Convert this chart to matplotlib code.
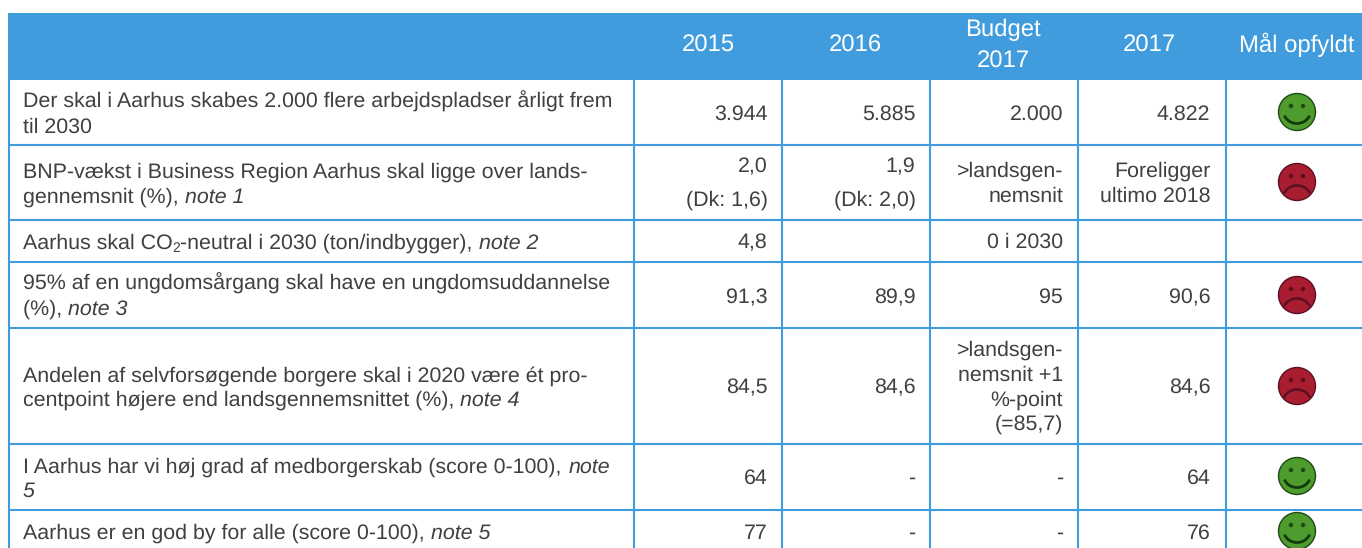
import matplotlib
matplotlib.use("Agg")
import matplotlib.pyplot as plt
from matplotlib.patches import Rectangle, Circle, Arc

plt.rcParams['font.family'] = ['Liberation Sans', 'DejaVu Sans']
plt.rcParams['text.hinting'] = 'none'
plt.rcParams['text.hinting_factor'] = 8

# table content
headers = ["2015", "2016", "Budget\n2017", "2017", "Mål opfyldt"]

# label runs: (text, style), style is n = normal, i = italic, s = subscript
labels = [
    [[("Der skal i Aarhus skabes 2.000 flere arbejdspladser årligt frem", "n")],
     [("til 2030", "n")]],
    [[("BNP-vækst i Business Region Aarhus skal ligge over lands-", "n")],
     [("gennemsnit (%), ", "n"), ("note 1", "i")]],
    [[("Aarhus skal CO", "n"), ("2", "s"), ("-neutral i 2030 (ton/indbygger), ", "n"), ("note 2", "i")]],
    [[("95% af en ungdomsårgang skal have en ungdomsuddannelse", "n")],
     [("(%), ", "n"), ("note 3", "i")]],
    [[("Andelen af selvforsøgende borgere skal i 2020 være ét pro-", "n")],
     [("centpoint højere end landsgennemsnittet (%), ", "n"), ("note 4", "i")]],
    [[("I Aarhus har vi høj grad af medborgerskab (score 0-100), ", "n"), ("note", "i")],
     [("5", "i")]],
    [[("Aarhus er en god by for alle (score 0-100), ", "n"), ("note 5", "i")]],
]

col_2015 = ["3.944", "2,0\n(Dk: 1,6)", "4,8", "91,3", "84,5", "64", "77"]
col_2016 = ["5.885", "1,9\n(Dk: 2,0)", "", "89,9", "84,6", "-", "-"]
col_budget = ["2.000", ">landsgen-\nnemsnit", "0 i 2030", "95",
              ">landsgen-\nnemsnit +1\n%-point\n(=85,7)", "-", "-"]
col_2017 = ["4.822", "Foreligger\nultimo 2018", "", "90,6", "84,6", "64", "76"]
goal_met = [True, False, None, False, False, True, True]

# layout in pixels
W, H = 1362, 548
left, right = 8.5, 1362
head_top, head_bot = 13, 80
row_lines = [80, 145, 220, 262, 328, 444, 510, 548]
col_lines = [8.5, 634, 781.5, 930, 1078, 1226]
right_edges = [767.5, 915.5, 1063, 1210.5]
head_x = [708, 855, 1003, 1149, 1297]
face_x = 1297
face_y = [112, 182, None, 295, 386, 476, 531]
label_y = [[108, 133], [178, 203], [249], [290, 315], [382, 406], [473, 497], [539]]
value_y = [120, 189, 248, 303, 393, 484, 539]
line_h = 24.6

BLUE = "#409CDC"
TEXT = "#404040"
FS = 15.43
HEAD_FS = 17.2

fig = plt.figure(figsize=(W / 100, H / 100), dpi=100)
ax = fig.add_axes([0, 0, 1, 1])
ax.set_xlim(0, W)
ax.set_ylim(H, 0)
ax.axis("off")
renderer = fig.canvas.get_renderer()

# header band
ax.add_patch(Rectangle((left - 1, head_top), right - left + 1, head_bot - head_top, color=BLUE, lw=0))
for x, head in zip(head_x, headers):
    parts = head.split("\n")
    if len(parts) == 2:
        ax.text(x, 36, parts[0], color="white", fontsize=HEAD_FS, ha="center", va="baseline")
        ax.text(x, 68, parts[1], color="white", fontsize=HEAD_FS, ha="center", va="baseline")
    else:
        ax.text(x, 52, head, color="white", fontsize=HEAD_FS, ha="center", va="baseline")

# grid lines
for y in row_lines[1:-1]:
    ax.plot([left, right], [y, y], color=BLUE, lw=1.5, solid_capstyle="butt")
for x in col_lines:
    ax.plot([x, x], [row_lines[0], H], color=BLUE, lw=1.5, solid_capstyle="butt")


def draw_runs(x, y, runs):
    for txt, style in runs:
        if style == "s":
            t = ax.text(x, y + 3, txt, color=TEXT, fontsize=FS * 0.65, va="baseline")
        else:
            t = ax.text(x, y, txt, color=TEXT, fontsize=FS, va="baseline",
                        style="italic" if style == "i" else "normal")
        # trailing spaces count for the next run
        probe = ax.text(0, 0, txt.replace(" ", "\u00a0"), fontsize=t.get_fontsize(), style=t.get_style())
        x += probe.get_window_extent(renderer).width
        probe.remove()


def draw_face(x, y, happy):
    fill = "#4F9C2E" if happy else "#A81D30"
    edge = "#1C4A12" if happy else "#5A1020"
    ax.add_patch(Circle((x, y), 18.5, facecolor=fill, edgecolor=edge, lw=1))
    for dx in (-6, 6):
        ax.add_patch(Circle((x + dx, y - 6), 2.2, facecolor=edge, edgecolor="none"))
    if happy:
        ax.add_patch(Arc((x, y - 1), 27, 25, theta1=20, theta2=160, color="#123A0C", lw=2))
    else:
        ax.add_patch(Arc((x, y + 15), 27, 23, theta1=195, theta2=345, color="#5A1020", lw=1.8))


for lines, ys in zip(labels, label_y):
    for runs, y in zip(lines, ys):
        draw_runs(23, y, runs)

for edge, col in zip(right_edges, [col_2015, col_2016, col_budget, col_2017]):
    for val, yc in zip(col, value_y):
        parts = val.split("\n")
        # the two-line year values sit wider apart than wrapped text
        step = 33 if val.startswith(("2,0", "1,9")) else line_h
        y0 = yc - step * (len(parts) - 1) / 2
        for i, part in enumerate(parts):
            ax.text(edge, y0 + i * step, part, color=TEXT, fontsize=FS, ha="right", va="baseline")

for happy, y in zip(goal_met, face_y):
    if happy is not None:
        draw_face(face_x, y, happy)

fig.savefig("out.png", dpi=100, facecolor="white")
